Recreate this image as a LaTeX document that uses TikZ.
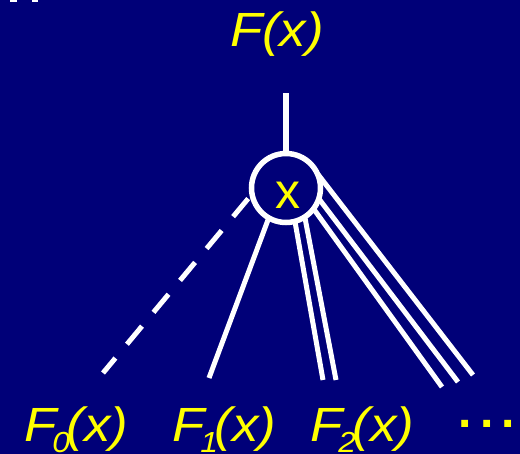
\documentclass[tikz,border=0pt]{standalone}
\usepackage{fontspec}
\setmainfont{Liberation Sans}
\newfontfamily\lblfont[FakeStretch=1.1]{Liberation Sans}
\definecolor{navy}{RGB}{0,0,120}
\definecolor{ylw}{RGB}{255,255,0}
\pgfdeclarelayer{bg}
\pgfsetlayers{bg,main}
\newcommand{\mysub}[1]{\kern-4pt\raisebox{-11pt}{\fontsize{29}{34}\selectfont #1}\kern-3.5pt}
\begin{document}
\begin{tikzpicture}[x=1pt,y=-1pt,
  lbl/.style={text=ylw, inner sep=0pt, outer sep=0pt, anchor=base west,
    font=\lblfont\fontsize{48}{56}\selectfont\itshape},
  wire/.style={draw=white, line width=5pt},
  ring/.style={circle, draw=white, line width=5.5pt, minimum size=69pt,
    inner sep=0pt, outer sep=0pt}]
\useasboundingbox (0,0) rectangle (520,454);
\begin{pgfonlayer}{bg}
\fill[navy] (0,0) rectangle (520,454);
\fill[white] (10,0) rectangle (16.5,1.7);
\fill[white] (32,0) rectangle (38.3,1.7);
\end{pgfonlayer}
% labels
\node[lbl] (top) at (230,46.7) {F(x)};
\node[lbl] (f0) at (24,441.7) {F\mysub{0}(x)};
\node[lbl] (f1) at (172,441.7) {F\mysub{1}(x)};
\node[lbl] (f2) at (310,441.7) {F\mysub{2}(x)};
\node[text=ylw, inner sep=0pt, anchor=base west, font=\fontsize{48}{56}\selectfont\bfseries]
  (dots) at (458.5,427.3) {.\kern8.2pt.\kern8.2pt.};
% vertex
\node[ring] (c) at (286,188) {};
\node[text=ylw, inner sep=0pt, anchor=base, font=\fontsize{50}{60}\selectfont] (xl) at (288,208.3) {x};
% end points
\coordinate (ptop) at (286,93);
\coordinate (e0) at (103,373);
\coordinate (e1) at (209,378);
\coordinate (e2a) at (323,380);
\coordinate (e2b) at (336,380);
\coordinate (e3a) at (473,375);
\coordinate (e3b) at (458,382);
\coordinate (e3c) at (442,387);
\begin{pgfonlayer}{bg}
\draw[draw=white, line width=6.5pt] (c.90) -- (ptop);
\draw[wire, dash pattern=on 23.5pt off 18pt, dash phase=35.5pt] (c.-170.5) -- (e0);
\draw[wire] (c.-120) -- (e1);
\draw[wire] (c.-75.7) -- (e2a);
\draw[wire] (c.-57.8) -- (e2b);
\draw[wire] (c.25) -- (e3a);
\draw[wire] (c.-18) -- (e3b);
\draw[wire] (c.-37) -- (e3c);
\end{pgfonlayer}
\end{tikzpicture}
\end{document}
